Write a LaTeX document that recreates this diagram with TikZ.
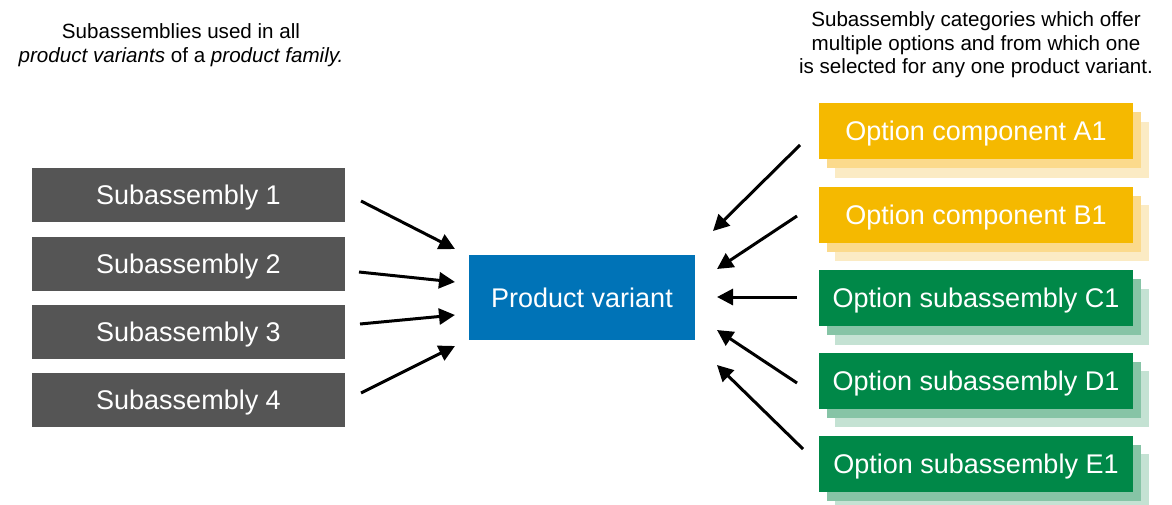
\documentclass[tikz,border=0pt]{standalone}
\usepackage{fontspec}
\setmainfont{Liberation Sans}
\usetikzlibrary{arrows.meta}
\definecolor{subgray}{RGB}{85,85,85}
\definecolor{pvblue}{RGB}{0,115,183}
\definecolor{optyel}{RGB}{245,185,0}
\definecolor{optyelA}{RGB}{251,218,140}
\definecolor{optyelB}{RGB}{251,235,196}
\definecolor{optgrn}{RGB}{0,136,72}
\definecolor{optgrnA}{RGB}{134,196,166}
\definecolor{optgrnB}{RGB}{196,226,211}
\tikzset{
  boxtext/.style={text=white, font=\fontsize{13.5pt}{16pt}\selectfont, inner sep=0pt, text depth=0pt},
  subbox/.style={boxtext, fill=subgray, minimum width=156.5pt, minimum height=27pt},
  pvbox/.style={boxtext, fill=pvblue, minimum width=113pt, minimum height=42.5pt},
  optbox/.style={boxtext, minimum width=157pt, minimum height=28pt},
  shadowbox/.style={minimum width=157pt, minimum height=28pt, inner sep=0pt},
  header/.style={align=center, font=\fontsize{10.3pt}{11.7pt}\selectfont, inner sep=0pt},
  arr/.style={line width=1.5pt, -{Triangle[length=8pt,width=8pt]}}
}
\begin{document}
\begin{tikzpicture}[x=0.5pt,y=-0.5pt]
\useasboundingbox (0,0) rectangle (1172,504);
% headers
\node[header] (hl) at (181,45) {Subassemblies used in all\\\textit{product variants} of a \textit{product family.}};
\node[header] (hr) at (976,45) {Subassembly categories which offer\\multiple options and from which one\\is selected for any one product variant.};
% left boxes
\node[subbox] (s1) at (188.5,195) {Subassembly 1};
\node[subbox] (s2) at (188.5,264) {Subassembly 2};
\node[subbox] (s3) at (188.5,332) {Subassembly 3};
\node[subbox] (s4) at (188.5,400) {Subassembly 4};
% centre
\node[pvbox] (pv) at (582,297.5) {Product variant};
% option boxes with shadows
\foreach \n/\y/\c/\t in {a/131/optyel/Option component A1, b/214.5/optyel/Option component B1, c/298/optgrn/Option subassembly C1, d/380.5/optgrn/Option subassembly D1, e/463.5/optgrn/Option subassembly E1}{
  \node[shadowbox, fill=\c B] (\n sh2) at (992,\y+18.5) {};
  \node[shadowbox, fill=\c A] (\n sh1) at (984,\y+9.25) {};
  \node[optbox, fill=\c] (\n) at (976,\y) {\t};
}
% arrow end points
\coordinate (l1s) at (361,201); \coordinate (l1e) at (455,249);
\coordinate (l2s) at (359,272); \coordinate (l2e) at (455,282);
\coordinate (l3s) at (360,324); \coordinate (l3e) at (455,315);
\coordinate (l4s) at (361,393); \coordinate (l4e) at (455,346);
\coordinate (rAs) at (800,145); \coordinate (rAe) at (713,231);
\coordinate (rBs) at (797,216); \coordinate (rBe) at (717,269);
\coordinate (rCs) at (797,297); \coordinate (rCe) at (717,297);
\coordinate (rDs) at (797,383); \coordinate (rDe) at (717,330);
\coordinate (rEs) at (803,449); \coordinate (rEe) at (717,365);
\draw[arr] (l1s) -- (l1e);
\draw[arr] (l2s) -- (l2e);
\draw[arr] (l3s) -- (l3e);
\draw[arr] (l4s) -- (l4e);
\draw[arr] (rAs) -- (rAe);
\draw[arr] (rBs) -- (rBe);
\draw[arr] (rCs) -- (rCe);
\draw[arr] (rDs) -- (rDe);
\draw[arr] (rEs) -- (rEe);
\end{tikzpicture}
\end{document}
